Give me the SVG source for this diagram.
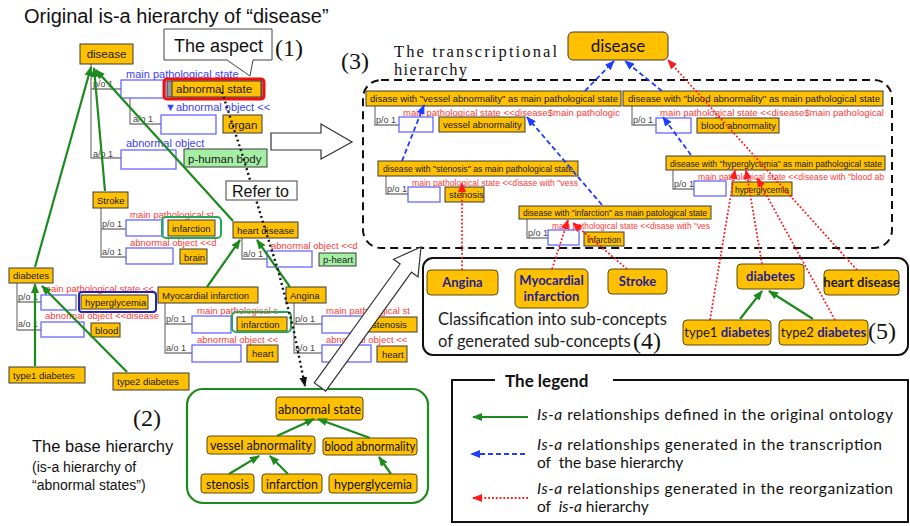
<svg xmlns="http://www.w3.org/2000/svg" width="910" height="526" viewBox="0 0 910 526">
<defs>
<style>
.sans{font-family:"Liberation Sans",Arial,sans-serif}
.cal{font-family:Lato,"Open Sans",sans-serif}
.ser{font-family:"Liberation Serif","Times New Roman",serif}
.pb{fill:#ffc000;stroke:#3a3a3a;stroke-width:1}
.wb{fill:#fff;stroke:#5b5bff;stroke-width:1.2}
.gb{fill:#a4efa4;stroke:#3a3a3a;stroke-width:1}
.tree{fill:none;stroke:#808080;stroke-width:1.3}
.s12{font-size:11.5px;fill:#1a1a1a}
.s10{font-size:9.5px;fill:#1a1a1a}
.po{font-size:9px;fill:#444}
.bl{fill:#4040ff}
.rd{fill:#ff3a3a}
.green{stroke:#1c8a1c;stroke-width:2.2;fill:none}
.bdash{stroke:#1f3cff;stroke-width:1.8;stroke-dasharray:5,3;fill:none}
.rdot{stroke:#ff1a1a;stroke-width:1.8;stroke-dasharray:1.8,2;fill:none}
.cb{fill:#ffc000;stroke:#5a4a10;stroke-width:1}
.cbt{font-size:13px;font-weight:bold;fill:#1f2090}
.bht{font-size:14px;fill:#111}
.leg{font-size:15.5px;fill:#111}
.hollow{fill:#fff;stroke:#333;stroke-width:1.2}
</style>
<marker id="ag" markerWidth="10" markerHeight="8" refX="9" refY="4" orient="auto" markerUnits="userSpaceOnUse"><path d="M0,0 L10,4 L0,8 Z" fill="#1c8a1c"/></marker>
<marker id="ab" markerWidth="10" markerHeight="8" refX="9" refY="4" orient="auto" markerUnits="userSpaceOnUse"><path d="M0,0 L10,4 L0,8 Z" fill="#1f3cff"/></marker>
<marker id="ar" markerWidth="10" markerHeight="8" refX="9" refY="4" orient="auto" markerUnits="userSpaceOnUse"><path d="M0,0 L10,4 L0,8 Z" fill="#ff1a1a"/></marker>
<marker id="ak" markerWidth="10" markerHeight="8" refX="9" refY="4" orient="auto" markerUnits="userSpaceOnUse"><path d="M0,0 L10,4 L0,8 Z" fill="#111"/></marker>
</defs>
<rect width="910" height="526" fill="#fff"/>

<!-- captions -->
<g id="captions">
<text class="sans" x="24" y="23" font-size="20" fill="#111">Original is-a hierarchy of “disease”</text>
<text class="ser" x="275" y="56" font-size="24" fill="#111">(1)</text>
<text class="ser" x="341" y="69" font-size="24" fill="#111">(3)</text>
<text class="ser" x="394" y="57" font-size="16.5" fill="#111" textLength="163">The transcriptional</text>
<text class="ser" x="394" y="75" font-size="16.5" fill="#111" textLength="73">hierarchy</text>
<text class="ser" x="133" y="426" font-size="24" fill="#111">(2)</text>
<text class="sans" x="32" y="452" font-size="16.5" fill="#111">The base hierarchy</text>
<text class="sans" x="32" y="472" font-size="14" fill="#111">(is-a hierarchy of</text>
<text class="sans" x="32" y="490" font-size="14" fill="#111">“abnormal states”)</text>
</g>

<!-- original is-a hierarchy: disease -->
<g id="disease-orig">
<path class="tree" d="M91,64 V158 H121 M91,89 H121 M130,98 V124 H161"/>
<rect class="pb" x="80" y="44" width="53" height="20"/>
<text class="sans s12" x="106.5" y="58" text-anchor="middle">disease</text>
<text class="sans po" x="93" y="87">p/o 1</text>
<text class="sans bl" x="126" y="78" font-size="11">main pathological state</text>
<rect class="wb" x="121" y="80" width="44" height="18"/>
<rect x="167" y="81" width="95" height="16" fill="#999" stroke="#333"/>
<rect class="pb" x="172" y="81" width="89" height="16"/>
<text class="sans s12" x="176" y="93">abnormal state</text>
<rect x="164" y="79" width="100" height="20" rx="3" fill="none" stroke="#ee1111" stroke-width="3"/>
<text class="sans po" x="133" y="122">a/o 1</text>
<text class="sans bl" x="165" y="111" font-size="11">▼abnormal object &lt;&lt;</text>
<rect class="wb" x="161" y="115" width="55" height="19"/>
<rect class="pb" x="223" y="115" width="39" height="18"/>
<text class="sans s12" x="228" y="129">organ</text>
<text class="sans bl" x="126" y="147" font-size="11">abnormal object</text>
<text class="sans po" x="93" y="157">a/o 1</text>
<rect class="wb" x="121" y="150" width="55" height="19"/>
<rect class="gb" x="184" y="149" width="83" height="18"/>
<text class="sans s12" x="188" y="163">p-human body</text>
</g>

<g id="stroke-orig">
<path class="tree" d="M101,208 V257 H126 M101,229 H126"/>
<rect class="pb" x="93" y="192" width="35" height="16"/>
<text class="sans s10" x="97" y="204">Stroke</text>
<text class="sans po" x="102" y="227">p/o 1</text>
<text class="sans rd" x="130" y="218" font-size="9.5">main pathological st</text>
<rect class="wb" x="126" y="220" width="37" height="16"/>
<rect class="pb" x="168" y="220" width="47" height="16"/>
<text class="sans s10" x="172" y="232">infarction</text>
<rect x="162" y="217" width="59" height="21" rx="4" fill="none" stroke="#22aa55" stroke-width="2"/>
<text class="sans po" x="102" y="255">a/o 1</text>
<text class="sans rd" x="130" y="246" font-size="9.5">abnormal object &lt;&lt;d</text>
<rect class="wb" x="126" y="248" width="47" height="16"/>
<rect class="pb" x="180" y="249" width="27" height="15"/>
<text class="sans s10" x="184" y="261">brain</text>
</g>

<g id="diabetes-orig">
<path class="tree" d="M17,283 V330 H41 M17,302 H41"/>
<rect class="pb" x="9" y="268" width="44" height="15"/>
<text class="sans s10" x="13" y="279">diabetes</text>
<text class="sans po" x="18" y="300">p/o 1</text>
<text class="sans rd" x="43" y="292" font-size="9.5">main pathological state &lt;&lt;</text>
<rect class="wb" x="41" y="295" width="35" height="15"/>
<rect class="pb" x="81" y="295" width="67" height="14"/>
<text class="sans s10" x="85" y="306">hyperglycemia</text>
<rect x="79" y="292" width="77" height="20" rx="3" fill="none" stroke="#2222aa" stroke-width="2"/>
<text class="sans po" x="18" y="327">a/o 1</text>
<text class="sans rd" x="45" y="319" font-size="9.5">abnormal object &lt;&lt;disease</text>
<rect class="wb" x="41" y="322" width="43" height="15"/>
<rect class="pb" x="91" y="323" width="29" height="14"/>
<text class="sans s10" x="95" y="334">blood</text>
</g>

<g id="type1-diabetes-orig">
<rect class="pb" x="9" y="367" width="76" height="16"/>
<text class="sans s10" x="13" y="379">type1 diabetes</text>
</g>
<g id="type2-diabetes-orig">
<rect class="pb" x="113" y="373" width="76" height="17"/>
<text class="sans s10" x="117" y="385">type2 diabetes</text>
</g>

<g id="heart-disease-orig">
<path class="tree" d="M242,238 V259 H267"/>
<rect class="pb" x="233" y="222" width="65" height="16"/>
<text class="sans s10" x="237" y="234">heart disease</text>
<text class="sans po" x="243" y="257">a/o 1</text>
<text class="sans rd" x="271" y="249" font-size="9.5">abnormal object &lt;&lt;d</text>
<rect class="wb" x="267" y="251" width="45" height="16"/>
<rect class="gb" x="319" y="253" width="37" height="13"/>
<text class="sans s10" x="323" y="263">p-heart</text>
</g>

<g id="myocardial-orig">
<path class="tree" d="M165,303 V353 H192 M165,324 H192"/>
<rect class="pb" x="158" y="287" width="100" height="16"/>
<text class="sans s10" x="162" y="299">Myocardial infarction</text>
<text class="sans po" x="166" y="322">p/o 1</text>
<text class="sans rd" x="197" y="314" font-size="9.5">main pathological s</text>
<rect class="wb" x="192" y="316" width="39" height="17"/>
<rect class="pb" x="237" y="317" width="50" height="14"/>
<text class="sans s10" x="241" y="328">infarction</text>
<rect x="232" y="312" width="59" height="20" rx="4" fill="none" stroke="#22aa55" stroke-width="2"/>
<text class="sans po" x="166" y="351">a/o 1</text>
<text class="sans rd" x="197" y="343" font-size="9.5">abnormal object &lt;&lt;</text>
<rect class="wb" x="192" y="345" width="49" height="17"/>
<rect class="pb" x="247" y="345" width="31" height="17"/>
<text class="sans s10" x="252" y="357">heart</text>
</g>

<g id="angina-orig">
<path class="tree" d="M294,303 V353 H322 M294,324 H322"/>
<rect class="pb" x="286" y="287" width="40" height="16"/>
<text class="sans s10" x="290" y="299">Angina</text>
<text class="sans po" x="295" y="322">p/o 1</text>
<text class="sans rd" x="326" y="314" font-size="9.5">main pathological st</text>
<rect class="wb" x="322" y="316" width="45" height="17"/>
<rect class="pb" x="368" y="317" width="49" height="15"/>
<text class="sans s10" x="372" y="328">stenosis</text>
<text class="sans po" x="295" y="351">a/o 1</text>
<text class="sans rd" x="326" y="343" font-size="9.5">abnormal object &lt;&lt;</text>
<rect class="wb" x="322" y="345" width="49" height="17"/>
<rect class="pb" x="377" y="346" width="30" height="16"/>
<text class="sans s10" x="382" y="358">heart</text>
</g>

<!-- transcriptional hierarchy -->
<g id="transcription-frame">
<rect x="363" y="80" width="529" height="168" rx="18" fill="none" stroke="#111" stroke-width="2" stroke-dasharray="8,5"/>
</g>
<g id="disease-top">
<rect x="568" y="32" width="100" height="28" rx="5" fill="#ffc000" stroke="#3a3a3a"/>
<text class="cal" x="618" y="52" font-size="17" text-anchor="middle" fill="#111">disease</text>
</g>
<g id="vessel-header">
<path class="tree" d="M375,106 V125 H399"/>
<rect class="pb" x="366" y="91" width="255" height="15"/>
<text class="sans s10" x="370" y="102" textLength="248" lengthAdjust="spacingAndGlyphs">disase with "vessel abnormality" as main pathological state</text>
<text class="sans rd" x="403" y="116" font-size="9.5" textLength="217" lengthAdjust="spacingAndGlyphs">main pathological state &lt;&lt;disease$main pathologic</text>
<text class="sans po" x="376" y="123">p/o 1</text>
<rect class="wb" x="399" y="117" width="34" height="15"/>
<rect class="pb" x="439" y="117" width="86" height="15"/>
<text class="sans s10" x="443" y="128">vessel abnormality</text>
</g>
<g id="blood-header">
<path class="tree" d="M632,106 V125 H656"/>
<rect class="pb" x="623" y="91" width="260" height="15"/>
<text class="sans s10" x="628" y="102" textLength="252" lengthAdjust="spacingAndGlyphs">disease with "blood abnormality" as main pathological state</text>
<text class="sans rd" x="660" y="116" font-size="9.5" textLength="224" lengthAdjust="spacingAndGlyphs">main pathological state &lt;&lt;disease$main pathological</text>
<text class="sans po" x="633" y="123">p/o 1</text>
<rect class="wb" x="656" y="118" width="35" height="15"/>
<rect class="pb" x="697" y="118" width="82" height="15"/>
<text class="sans s10" x="701" y="129">blood abnormality</text>
</g>
<g id="stenosis-header">
<path class="tree" d="M386,176 V194 H408"/>
<rect class="pb" x="378" y="161" width="200" height="15"/>
<text class="sans s10" x="383" y="172" textLength="190" lengthAdjust="spacingAndGlyphs">disease with "stenosis" as main pathological state</text>
<text class="sans rd" x="412" y="186" font-size="9.5" textLength="166" lengthAdjust="spacingAndGlyphs">main pathological state &lt;&lt;disase with "vess</text>
<text class="sans po" x="387" y="192">p/o 1</text>
<rect class="wb" x="408" y="187" width="32" height="15"/>
<rect class="pb" x="445" y="187" width="39" height="15"/>
<text class="sans s10" x="449" y="198">stenosis</text>
</g>
<g id="hyperglycemia-header">
<path class="tree" d="M673,170 V189 H694"/>
<rect class="pb" x="666" y="156" width="219" height="14"/>
<text class="sans s10" x="670" y="167" textLength="212" lengthAdjust="spacingAndGlyphs">disease with "hyperglycemia" as main pathological state</text>
<text class="sans rd" x="698" y="180" font-size="9.5" textLength="186" lengthAdjust="spacingAndGlyphs">main pathological state &lt;&lt;disease with "blood ab</text>
<text class="sans po" x="674" y="187">p/o 1</text>
<rect class="wb" x="694" y="181" width="32" height="15"/>
<rect class="pb" x="732" y="182" width="60" height="14"/>
<text class="sans s10" x="735" y="193" textLength="54" lengthAdjust="spacingAndGlyphs">hyperglycemia</text>
</g>
<g id="infarction-header">
<path class="tree" d="M527,219 V238 H548"/>
<rect class="pb" x="519" y="206" width="192" height="13"/>
<text class="sans s10" x="523" y="216" textLength="184" lengthAdjust="spacingAndGlyphs">disease with "infarction" as main patological state</text>
<text class="sans rd" x="552" y="229" font-size="9.5" textLength="158" lengthAdjust="spacingAndGlyphs">main pathological state &lt;&lt;disase with "ves</text>
<text class="sans po" x="528" y="236">p/o 1</text>
<rect class="wb" x="548" y="230" width="31" height="15"/>
<rect class="pb" x="584" y="232" width="40" height="14"/>
<text class="sans s10" x="587" y="243" textLength="34" lengthAdjust="spacingAndGlyphs">infarction</text>
</g>

<!-- sub-concept classification -->
<g id="classification-frame">
<rect x="423" y="258" width="485" height="97" rx="10" fill="none" stroke="#111" stroke-width="2"/>
<text class="cal" x="438" y="325" font-size="16.5" fill="#222">Classification into sub-concepts</text>
<text class="cal" x="438" y="347" font-size="16.5" fill="#222">of generated sub-concepts</text>
<text class="ser" x="633" y="349" font-size="24" fill="#111">(4)</text>
<text class="ser" x="868" y="339" font-size="24" fill="#111">(5)</text>
</g>
<g id="angina"><rect class="cb" x="427" y="270" width="71" height="25" rx="4"/><text class="cal cbt" x="462.5" y="287" text-anchor="middle">Angina</text></g>
<g id="myocardial-infarction"><rect class="cb" x="515" y="269" width="73" height="39" rx="5"/><text class="cal cbt" x="551.5" y="285" text-anchor="middle">Myocardial</text><text class="cal cbt" x="551.5" y="301" text-anchor="middle">infarction</text></g>
<g id="stroke"><rect class="cb" x="608" y="269" width="59" height="25" rx="4"/><text class="cal cbt" x="637.5" y="286" text-anchor="middle">Stroke</text></g>
<g id="diabetes"><rect class="cb" x="737" y="264" width="67" height="25" rx="4"/><text class="cal cbt" x="770.5" y="281" text-anchor="middle">diabetes</text></g>
<g id="heart-disease"><rect class="cb" x="824" y="270" width="75" height="25" rx="4"/><text class="cal cbt" x="861.5" y="287" text-anchor="middle" style="fill:#1a1a1a">heart disease</text></g>
<g id="type1-diabetes"><rect class="cb" x="683" y="320" width="88" height="25" rx="4"/><text class="cal" x="727" y="337" text-anchor="middle" font-size="13" fill="#1a1a1a">type1 <tspan font-weight="bold" fill="#1f2090">diabetes</tspan></text></g>
<g id="type2-diabetes"><rect class="cb" x="779" y="320" width="89" height="25" rx="4"/><text class="cal" x="823.5" y="337" text-anchor="middle" font-size="13" fill="#1a1a1a">type2 <tspan font-weight="bold" fill="#1f2090">diabetes</tspan></text></g>

<!-- base hierarchy -->
<g id="base-frame"><rect x="187" y="389" width="241" height="114" rx="16" fill="none" stroke="#1c8a1c" stroke-width="2.2"/></g>
<g id="b-abnormal-state"><rect class="cb" x="276" y="397" width="87" height="23" rx="3"/><text class="cal bht" x="278" y="413.5" textLength="83" lengthAdjust="spacingAndGlyphs">abnormal state</text></g>
<g id="b-vessel"><rect class="cb" x="207" y="436" width="108" height="18" rx="3"/><text class="cal bht" x="210" y="450" textLength="102" lengthAdjust="spacingAndGlyphs">vessel abnormality</text></g>
<g id="b-blood"><rect class="cb" x="323" y="438" width="94" height="17" rx="3"/><text class="cal bht" x="324.5" y="451" textLength="91" lengthAdjust="spacingAndGlyphs">blood abnormality</text></g>
<g id="b-stenosis"><rect class="cb" x="201" y="474" width="53" height="19" rx="3"/><text class="cal bht" x="206" y="488.5" textLength="43" lengthAdjust="spacingAndGlyphs">stenosis</text></g>
<g id="b-infarction"><rect class="cb" x="262" y="474" width="60" height="19" rx="3"/><text class="cal bht" x="266" y="488.5" textLength="52" lengthAdjust="spacingAndGlyphs">infarction</text></g>
<g id="b-hyperglycemia"><rect class="cb" x="329" y="474" width="88" height="19" rx="3"/><text class="cal bht" x="334" y="488.5" textLength="78" lengthAdjust="spacingAndGlyphs">hyperglycemia</text></g>

<!-- connectors -->
<g id="connectors">
<!-- original ontology is-a -->
<path class="green" marker-end="url(#ag)" d="M35,267 L91,67"/>
<path class="green" marker-end="url(#ag)" d="M105,191 L94,68"/>
<path class="green" marker-end="url(#ag)" d="M233,221 L96,70"/>
<path class="green" marker-end="url(#ag)" d="M35,366 L35,284"/>
<path class="green" marker-end="url(#ag)" d="M127,372 L42,286"/>
<path class="green" marker-end="url(#ag)" d="M207,287 L240,240"/>
<path class="green" marker-end="url(#ag)" d="M290,287 L257,240"/>
<path class="green" marker-end="url(#ag)" d="M740,319 L762,291"/>
<path class="green" marker-end="url(#ag)" d="M813,319 L769,291"/>
<path class="green" marker-end="url(#ag)" d="M277,436 L314,419"/>
<path class="green" marker-end="url(#ag)" d="M370,438 L318,419"/>
<path class="green" marker-end="url(#ag)" d="M229,474 L259,456"/>
<path class="green" marker-end="url(#ag)" d="M288,474 L270,456"/>
<path class="green" marker-end="url(#ag)" d="M391,474 L379,457"/>
<!-- transcription -->
<path class="bdash" marker-end="url(#ab)" d="M585,91 L614,61"/>
<path class="bdash" marker-end="url(#ab)" d="M662,91 L625,61"/>
<path class="bdash" marker-end="url(#ab)" d="M402,161 L424,105"/>
<path class="bdash" marker-end="url(#ab)" d="M602,205 L527,117"/>
<path class="bdash" marker-end="url(#ab)" d="M691,155 L663,117"/>
<!-- reorganization -->
<path class="rdot" marker-end="url(#ar)" d="M462,270 L462,183"/>
<path class="rdot" marker-end="url(#ar)" d="M552,269 L568,220"/>
<path class="rdot" marker-end="url(#ar)" d="M627,269 L573,223"/>
<path class="rdot" marker-end="url(#ar)" d="M710,320 L735,170"/>
<path class="rdot" marker-end="url(#ar)" d="M762,264 L746,170"/>
<path class="rdot" marker-end="url(#ar)" d="M835,320 L757,178"/>
<path class="rdot" marker-end="url(#ar)" d="M857,270 L668,60"/>
<!-- reference line -->
<path d="M222,92 L244,160 L257,203 L278,270 L293,327 L305,386" fill="none" stroke="#111" stroke-width="2.4" stroke-dasharray="2,3" marker-end="url(#ak)"/>
<!-- hollow arrows -->
<polygon class="hollow" points="271,133 321,133 321,124 352,142 321,159 321,150 271,150"/>
<polygon class="hollow" points="325.7,391.1 411.5,272.2 418,276.9 421,247 393.6,259.3 400.1,264 314.3,382.9"/>
</g>

<!-- callouts -->
<g id="aspect-callout">
<path d="M164,29 H272 V60 H253 L250,76 L227,60 H164 Z" fill="#fff" stroke="#444" stroke-width="1"/>
<text class="sans" x="174" y="52" font-size="18" fill="#111">The aspect</text>
</g>
<g id="refer-callout">
<rect x="226" y="181" width="71" height="19" fill="#fff" stroke="#444"/>
<text class="sans" x="232" y="197" font-size="16" fill="#111">Refer to</text>
</g>

<!-- legend -->
<g id="legend">
<path d="M495,380 H452 V522 H908 V380 H613" fill="none" stroke="#111" stroke-width="2"/>
<text class="cal" x="505" y="387" font-size="17" font-weight="bold" fill="#111">The legend</text>
<path class="green" marker-end="url(#ag)" d="M528,417 L473,417"/>
<path class="bdash" marker-end="url(#ab)" d="M525,454 L471,454"/>
<path class="rdot" marker-end="url(#ar)" d="M528,498 L473,498"/>
<text class="cal leg" x="537" y="420" textLength="356"><tspan font-style="italic">Is-a</tspan> relationships defined in the original ontology</text>
<text class="cal leg" x="537" y="449.5" textLength="345"><tspan font-style="italic">Is-a</tspan> relationships generated in the transcription</text>
<text class="cal leg" x="537" y="468" xml:space="preserve">of  the base hierarchy</text>
<text class="cal leg" x="537" y="493.5" textLength="356"><tspan font-style="italic">Is-a</tspan> relationships generated in the reorganization</text>
<text class="cal leg" x="537" y="512" xml:space="preserve">of  <tspan font-style="italic">is-a</tspan> hierarchy</text>
</g>
</svg>
